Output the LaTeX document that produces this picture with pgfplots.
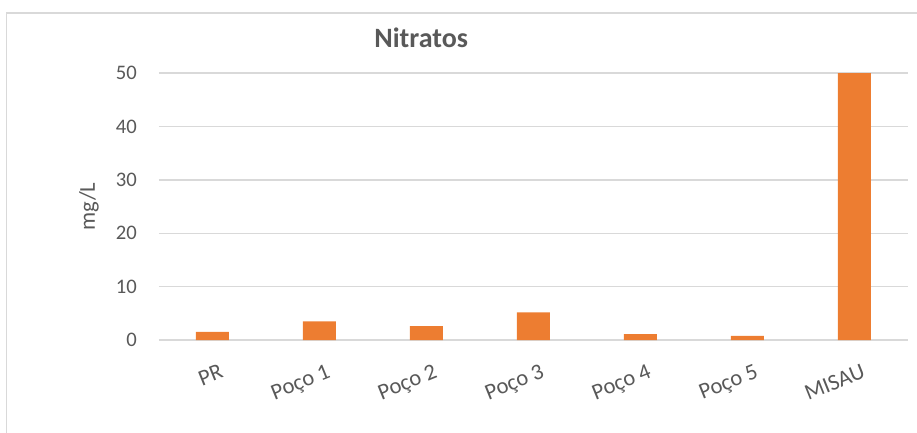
\documentclass[border=0pt]{standalone}
\usepackage{fontspec}
\setmainfont{Carlito}
\usepackage{pgfplots}
\pgfplotsset{compat=1.18}
\definecolor{barorange}{HTML}{ED7D31}
\definecolor{gridgray}{HTML}{D9D9D9}
\definecolor{txtgray}{HTML}{595959}
\begin{document}
\begin{tikzpicture}
\useasboundingbox (-119.25pt,-69pt) rectangle (568.5pt,255pt);
\begin{axis}[
  at={(0,0)}, anchor=south west,
  scale only axis,
  width=561.75pt, height=200.1pt,
  xmin=-0.5, xmax=6.5, ymin=0, ymax=50,
  ytick={0,10,20,30,40,50},
  xtick={0,1,2,3,4,5,6},
  xticklabels={PR,Poço 1,Poço 2,Poço 3,Poço 4,Poço 5,MISAU},
  ybar, bar width=24.75pt,
  ymajorgrids, grid style={color=gridgray, line width=1.1pt},
  axis line style={draw=none},
  major tick length=0pt,
  /pgf/number format/assume math mode=true,
  tick label style={font=\fontsize{15.5}{18}\selectfont, text=txtgray},
  y tick label style={inner sep=0pt, anchor=east, xshift=-16.5pt},
  x tick label style={font=\fontsize{17}{19}\selectfont, rotate=22, anchor=north east, inner sep=0pt, yshift=-18pt, xshift=-2pt},
  title={Nitratos},
  title style={at={(0.35,1.104)}, anchor=center, font=\fontsize{21}{25}\selectfont\bfseries, text=txtgray},
  ylabel={mg/L},
  every axis y label/.style={at={(axis description cs:-0.0935,0.5)}, rotate=90, anchor=center, font=\fontsize{17}{20}\selectfont, text=txtgray},
  clip=false,
]
\addplot[fill=barorange, draw=none] coordinates {(0,1.5) (1,3.5) (2,2.6) (3,5.2) (4,1.1) (5,0.75) (6,50)};
\end{axis}
\draw[gridgray, line width=1.1pt] (-114.4pt,-80pt) -- (-114.4pt,245.25pt) -- (580pt,245.25pt);
\end{tikzpicture}
\end{document}
